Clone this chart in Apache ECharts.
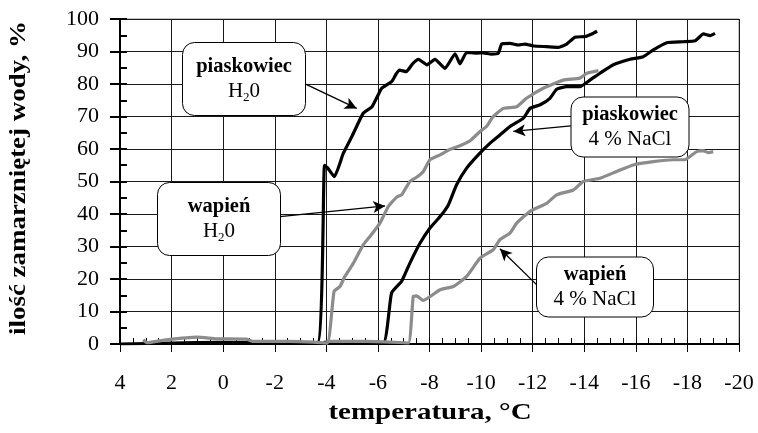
<!DOCTYPE html>
<html>
<head>
<meta charset="utf-8">
<script src="https://cdn.jsdelivr.net/npm/echarts@6/dist/echarts.min.js"></script>
<style>
  html, body { margin: 0; padding: 0; background: #fff; }
  #main { width: 758px; height: 433px; }
</style>
</head>
<body>
<div id="main"></div>
<script>
// dane: [temperatura, % zamarzniętej wody]
const sandWater = [
  [4, 0], [2, 0.3], [0, 0.5], [-2, 0.4], [-3.65, 0.3], [-3.93, 55], [-4.05, 54.2],
  [-4.31, 51.5], [-4.66, 58.7], [-5.0, 64], [-5.43, 71], [-5.76, 72.9], [-6.0, 76.5],
  [-6.15, 78.7], [-6.53, 80.7], [-6.7, 83], [-6.83, 84.3], [-7.1, 83.8], [-7.35, 86.3],
  [-7.57, 87.6], [-7.9, 85.9], [-8.21, 87.6], [-8.6, 84.8], [-8.99, 89.3], [-9.18, 86.2],
  [-9.44, 89.7], [-9.82, 89.5], [-10.08, 89.6], [-10.4, 89.2], [-10.67, 89.5], [-10.8, 92.3],
  [-11.12, 92.5], [-11.45, 92], [-11.7, 92.3], [-12.03, 91.7], [-12.54, 91.5], [-13, 91.3],
  [-13.32, 92.3], [-13.64, 94.4], [-14.03, 94.6], [-14.29, 95.4], [-14.5, 96.3]
];
const limeWater = [
  [3.1, 1.3], [2.95, 0.4], [2.2, 1.3], [1.0, 2.1], [0.25, 1.6], [-0.9, 1.5], [-1.15, 0.8],
  [-2.5, 0.8], [-3.5, 0.6], [-4.04, 0.3], [-4.3, 16.2], [-4.53, 17.7], [-4.72, 20.8],
  [-5.05, 24.9], [-5.43, 30.5], [-5.69, 33.1], [-6.08, 37.2], [-6.4, 42.3], [-6.73, 45.2],
  [-6.92, 45.9], [-7.24, 50], [-7.5, 51.3], [-7.76, 53.1], [-8.02, 56.7], [-8.41, 58.2],
  [-8.8, 59.9], [-9.18, 61], [-9.6, 62.7], [-9.96, 65.4], [-10.22, 67], [-10.45, 69.8],
  [-10.86, 72.5], [-11.38, 73], [-11.76, 75.6], [-12.41, 78.7], [-13.19, 81.2],
  [-13.83, 81.8], [-14.1, 83.3], [-14.55, 84.1]
];
const sandBrine = [
  [-3.9, 0.5], [-5, 0.6], [-6.21, 0.4], [-6.53, 15.7], [-6.92, 19.3], [-7.24, 24.9],
  [-7.63, 31], [-8.02, 35.7], [-8.41, 39.2], [-8.73, 42.8], [-9.05, 49], [-9.44, 54.1],
  [-9.89, 58.2], [-10.35, 61.8], [-10.73, 64.3], [-11.12, 66.9], [-11.64, 69.5],
  [-11.9, 72.5], [-12.29, 73.6], [-12.67, 75.6], [-12.93, 78.4], [-13.32, 79.2],
  [-13.83, 79.2], [-14.22, 81.2], [-14.61, 83.3], [-15.13, 85.9], [-15.78, 87.6],
  [-16.29, 88.4], [-16.68, 90.5], [-17.2, 92.7], [-17.84, 93], [-18.3, 93.3],
  [-18.62, 95.4], [-18.88, 94.9], [-19.07, 95.6]
];
const limeBrine = [
  [-4.0, 0.8], [-5.5, 0.8], [-6.5, 0.6], [-7.18, 0.3], [-7.37, 14.6], [-7.5, 14.8],
  [-7.76, 13.4], [-8.41, 16.7], [-8.93, 17.7], [-9.44, 20.8], [-9.96, 26.4], [-10.47, 29],
  [-10.73, 32.1], [-11.12, 34.1], [-11.38, 37.2], [-11.9, 40.8], [-12.54, 43.3],
  [-12.93, 45.9], [-13.58, 47.4], [-13.96, 50], [-14.61, 51], [-15.26, 53.1], [-15.9, 55.1],
  [-16.68, 56.1], [-17.45, 56.7], [-17.9, 56.7], [-18.1, 57.7], [-18.36, 59.2],
  [-18.62, 59.5], [-18.8, 58.9], [-19.0, 59.2]
];

// podpisy w ramkach
const noteTitles = ['piaskowiec', 'wapień', 'piaskowiec', 'wapień'];
const noteSubs = ['{n|H}{s|2}{n|0}', '{n|H}{s|2}{n|0}', '{n|4 % NaCl}', '{n|4 % NaCl}'];
const xTitle = 'temperatura, °C';
const yTitle = 'ilość zamarzniętej wody, %';

const FONT = 'Liberation Serif';
const GRAY = '#8c8c8c';

// ramki: środek, szerokość, wysokość (px)
const boxes = [
  { cx: 244, cy: 79, w: 123, h: 73 },
  { cx: 219, cy: 219, w: 123, h: 73 },
  { cx: 630, cy: 127, w: 118, h: 60 },
  { cx: 595, cy: 287, w: 117, h: 60 }
];
// strzałki w układzie danych [start, koniec]
const arrows = [
  [[-2.5, 82.6], [-5.18, 72.5]],
  [[-2.2, 39.2], [-6.28, 42.5]],
  [[-13.48, 67.1], [-11.25, 65.4]],
  [[-12.16, 18.2], [-10.73, 29.3]]
];

const chart = echarts.init(document.getElementById('main'));

const graphics = [];
boxes.forEach((b, i) => {
  graphics.push({
    type: 'rect', z: 100,
    shape: { x: b.cx - b.w / 2, y: b.cy - b.h / 2, width: b.w, height: b.h, r: 12 },
    style: { fill: '#fff', stroke: '#000', lineWidth: 1 }
  });
  graphics.push({
    type: 'text', z: 101,
    x: b.cx, y: b.cy,
    style: {
      text: '{b|' + noteTitles[i] + '}\n' + noteSubs[i],
      align: 'center', verticalAlign: 'middle',
      rich: {
        b: { fontFamily: FONT, fontSize: 20.5, fontWeight: 'bold', lineHeight: 25, fill: '#000' },
        n: { fontFamily: FONT, fontSize: 21, lineHeight: 25, fill: '#000' },
        s: { fontFamily: FONT, fontSize: 13, lineHeight: 13, verticalAlign: 'bottom', fill: '#000' }
      }
    }
  });
});
// tytuły osi
graphics.push({
  type: 'text', x: 430, y: 413, scaleX: 1.26,
  style: { text: xTitle, fontFamily: FONT, fontSize: 23, fontWeight: 'bold', fill: '#000', align: 'center', verticalAlign: 'middle' }
});
graphics.push({
  type: 'text', x: 19, y: 178, rotation: Math.PI / 2, scaleX: 1.17,
  style: { text: yTitle, fontFamily: FONT, fontSize: 23, fontWeight: 'bold', fill: '#000', align: 'center', verticalAlign: 'middle' }
});

const lineSeries = (data, color) => ({
  type: 'line',
  data: data,
  showSymbol: false,
  smooth: 0.15,
  lineStyle: { color: color, width: 3.2 },
  xAxisIndex: 0,
  yAxisIndex: 0,
  silent: true
});

const option = {
  animation: false,
  backgroundColor: '#fff',
  grid: { left: 120, right: 19, top: 19, bottom: 89, show: true, borderColor: '#8c8c8c', borderWidth: 1 },
  xAxis: [
    {
      type: 'value', min: -20, max: 4, interval: 2, inverse: true, position: 'bottom',
      axisLine: { show: true, onZero: false, lineStyle: { color: '#000', width: 2 } },
      axisTick: { show: true, inside: false, length: 8, lineStyle: { color: '#000', width: 1 } },
      axisLabel: { margin: 28, color: '#000', fontFamily: FONT, fontSize: 22 },
      splitLine: { show: true, lineStyle: { color: '#1a1a1a', width: 1 } }
    },
    {
      type: 'value', min: -20, max: 4, interval: 0.5, inverse: true, position: 'bottom',
      axisLine: { show: false, onZero: false },
      axisTick: { show: true, inside: true, length: 6, lineStyle: { color: '#000', width: 1 } },
      axisLabel: { show: false },
      splitLine: { show: false }
    }
  ],
  yAxis: [
    {
      type: 'value', min: 0, max: 100, interval: 10, position: 'left',
      axisLine: { show: true, onZero: false, lineStyle: { color: '#000', width: 2 } },
      axisTick: { show: true, inside: false, length: 10, lineStyle: { color: '#000', width: 2 } },
      axisLabel: { margin: 21, color: '#000', fontFamily: FONT, fontSize: 22 },
      splitLine: { show: true, lineStyle: { color: '#1a1a1a', width: 1 } }
    },
    {
      type: 'value', min: 0, max: 100, interval: 5, position: 'left',
      axisLine: { show: false, onZero: false },
      axisTick: { show: true, inside: true, length: 7, lineStyle: { color: '#000', width: 2 } },
      axisLabel: { show: false },
      splitLine: { show: false }
    }
  ],
  series: [
    lineSeries(sandWater, '#000'),
    lineSeries(sandBrine, '#000'),
    lineSeries(limeWater, GRAY),
    lineSeries(limeBrine, GRAY),
    {
      type: 'line', data: [], xAxisIndex: 0, yAxisIndex: 0, silent: true,
      markLine: {
        silent: true,
        animation: false,
        symbol: ['none', 'arrow'],
        symbolSize: [9, 12],
        label: { show: false },
        lineStyle: { color: '#000', width: 1.3, type: 'solid' },
        emphasis: { disabled: true },
        data: arrows.map(a => [{ coord: a[0] }, { coord: a[1] }])
      },
      z: 110
    }
  ],
  graphic: graphics
};

chart.setOption(option);
</script>
</body>
</html>
